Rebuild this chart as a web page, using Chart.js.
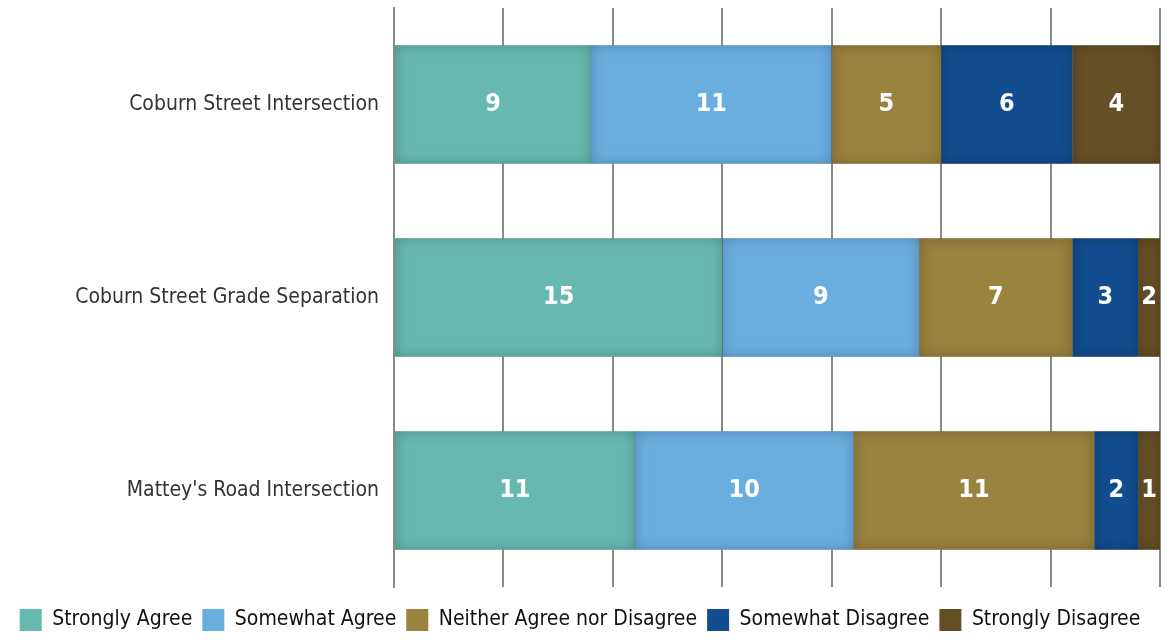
<!DOCTYPE html>
<html>
<head>
<meta charset="utf-8">
<script src="https://cdn.jsdelivr.net/npm/chart.js@4.4.1/dist/chart.umd.min.js"></script>
<style>
  html, body { margin: 0; padding: 0; background: #fff; }
  #wrap { width: 1169px; height: 641px; }
</style>
</head>
<body>
<div id="wrap"><canvas id="chartLikert"></canvas></div>
<script>
const categories = ['Coburn Street Intersection', 'Coburn Street Grade Separation', "Mattey's Road Intersection"];
const seriesNames = ['Strongly Agree', 'Somewhat Agree', 'Neither Agree nor Disagree', 'Somewhat Disagree', 'Strongly Disagree'];
const stronglyAgree = [9, 15, 11];
const somewhatAgree = [11, 9, 10];
const neither = [5, 7, 11];
const somewhatDisagree = [6, 3, 2];
const stronglyDisagree = [4, 2, 1];
const seriesColors = ['#67b9b0', '#6aaee0', '#9a823f', '#124d8f', '#654f26'];
const axisMax = 35;
const axisStep = 5;

const FONT = "'DejaVu Sans Condensed', 'Liberation Sans Narrow', 'Roboto', sans-serif";

// inner shadow + value label on each bar segment
const barDecor = {
    id: 'barDecor',
    afterDatasetsDraw(chart) {
        const ctx = chart.ctx;
        const area = chart.chartArea;
        chart.data.datasets.forEach((ds, di) => {
            const meta = chart.getDatasetMeta(di);
            meta.data.forEach((bar, i) => {
                const left = Math.max(Math.min(bar.base, bar.x), area.left);
                const right = Math.min(Math.max(bar.base, bar.x), area.right);
                const top = bar.y - bar.height / 2;
                const h = bar.height;
                if (right <= left) return;
                ctx.save();
                ctx.beginPath();
                ctx.rect(left, top, right - left, h);
                ctx.clip();
                ctx.shadowColor = 'rgba(0,0,0,0.6)';
                ctx.shadowBlur = 14;
                ctx.strokeStyle = 'rgba(0,0,0,0.4)';
                ctx.lineWidth = 20;
                ctx.strokeRect(left - 10, top - 10, right - left + 20, h + 20);
                ctx.restore();

                ctx.save();
                ctx.fillStyle = '#ffffff';
                ctx.font = "bold 25px " + FONT;
                ctx.textAlign = 'center';
                ctx.textBaseline = 'middle';
                ctx.fillText(String(ds.data[i]), (left + right) / 2, bar.y);
                ctx.restore();
            });
        });
    }
};

const allSeries = [stronglyAgree, somewhatAgree, neither, somewhatDisagree, stronglyDisagree];

new Chart(document.getElementById('chartLikert').getContext('2d'), {
    type: 'bar',
    data: {
        labels: categories,
        datasets: allSeries.map((vals, k) => ({
            label: seriesNames[k],
            data: vals,
            backgroundColor: seriesColors[k],
            borderWidth: 0,
            categoryPercentage: 0.615,
            barPercentage: 1.0
        }))
    },
    options: {
        indexAxis: 'y',
        responsive: true,
        maintainAspectRatio: false,
        animation: false,
        layout: { padding: { top: 8, right: 9, left: 0, bottom: 0 } },
        plugins: {
            tooltip: { enabled: false },
            legend: {
                position: 'bottom',
                labels: {
                    boxWidth: 22,
                    boxHeight: 22,
                    padding: 10,
                    color: '#111',
                    font: { family: FONT, size: 21 }
                }
            }
        },
        scales: {
            x: {
                stacked: true,
                min: 0,
                max: axisMax,
                afterFit(scale) { scale.height = 12; },
                ticks: { display: false, stepSize: axisStep },
                grid: { color: '#8a8a8a', lineWidth: 2, drawTicks: false },
                border: { display: false }
            },
            y: {
                stacked: true,
                afterFit(scale) {
                    scale.width = 394;
                    scale.paddingTop = 0;
                    scale.paddingBottom = 0;
                },
                ticks: { color: '#333', padding: 15, font: { family: FONT, size: 21 } },
                grid: { display: false, drawTicks: false },
                border: { display: true, color: '#8a8a8a', width: 2 }
            }
        }
    },
    plugins: [barDecor]
});
</script>
</body>
</html>
